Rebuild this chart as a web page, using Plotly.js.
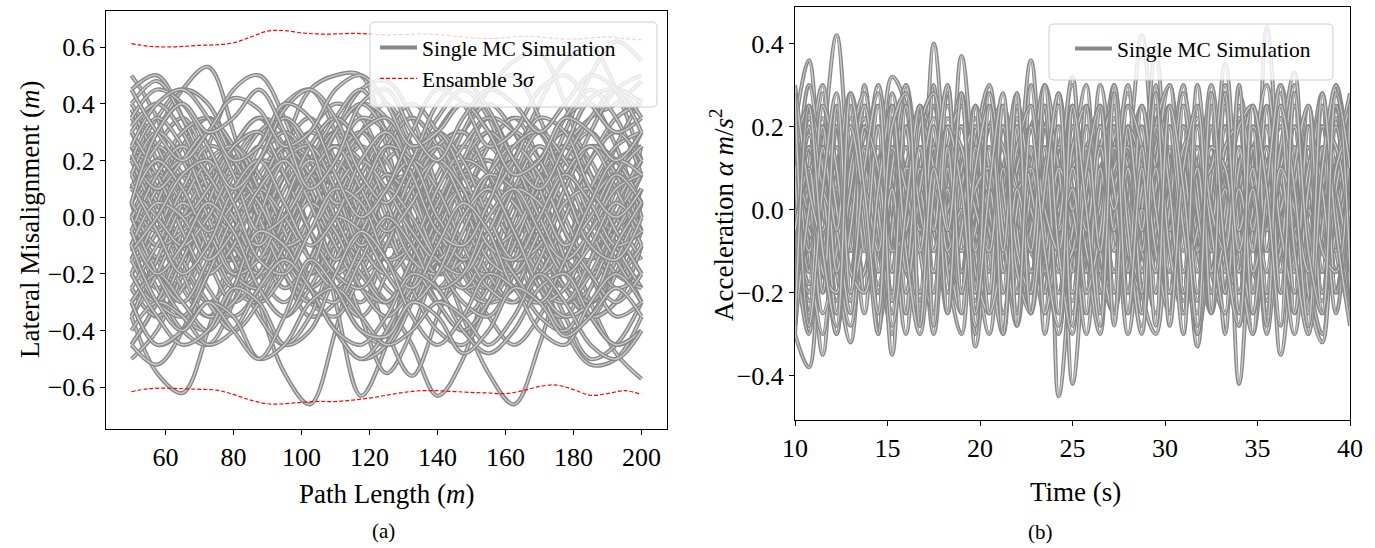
<!DOCTYPE html>
<html>
<head>
<meta charset="utf-8">
<script src="https://cdn.plot.ly/plotly-3.0.1.min.js"></script>
<style>html,body{margin:0;padding:0;background:#fff;}#chart{width:1375px;height:548px;}</style>
</head>
<body>
<div id="chart"></div>
<script>
// ---------- Panel (a): path length grid (m) ----------
const pathLength = [50,57.5,65,72.5,80,87.5,95,102.5,110,117.5,125,132.5,140,147.5,155,162.5,170,177.5,185,192.5,200];
const c01 = [0.50,0.35,0.05,-0.15,-0.05,0.20,0.30,0.10,-0.20,-0.30,-0.10,0.15,0.25,0.10,-0.15,-0.25,-0.05,0.20,0.30,0.15,-0.05];
const c02 = [0.10,0.30,0.45,0.53,0.30,-0.05,-0.25,-0.15,0.10,0.25,0.15,-0.10,-0.30,-0.20,0.05,0.20,0.10,-0.15,-0.30,-0.20,0.05];
const c03 = [0.05,-0.15,-0.05,0.15,0.05,-0.30,-0.55,-0.66,-0.40,-0.05,0.15,0.10,-0.10,-0.25,-0.15,0.05,0.20,0.10,-0.10,-0.20,-0.05];
const c04 = [0.20,0.05,-0.10,0.05,0.20,0.15,-0.05,-0.20,-0.10,0.10,0.25,0.15,-0.10,-0.35,-0.55,-0.66,-0.45,-0.15,0.05,0.10,-0.05];
const c05 = [-0.35,-0.55,-0.62,-0.40,-0.10,0.10,0.05,-0.15,-0.25,-0.10,0.10,0.20,0.05,-0.15,-0.20,0.00,0.20,0.25,0.05,-0.15,-0.25];
const c06 = [-0.10,0.05,0.15,0.05,-0.10,0.00,0.25,0.45,0.50,0.50,0.25,-0.05,-0.20,-0.10,0.10,0.20,0.05,-0.15,-0.20,0.00,0.15];
const c07 = [0.15,0.25,0.10,-0.10,-0.15,0.05,0.20,0.10,-0.10,-0.20,-0.30,-0.45,-0.63,-0.50,-0.20,0.05,0.15,0.05,-0.10,-0.05,0.10];
const c08 = [-0.20,-0.05,0.10,0.05,-0.15,-0.05,0.15,0.05,-0.30,-0.63,-0.45,-0.15,0.05,0.15,0.05,-0.10,-0.20,-0.10,0.10,0.15,0.00];
const c09 = [0.25,0.10,-0.10,-0.20,-0.05,0.15,0.25,0.15,-0.10,-0.35,-0.55,-0.40,-0.15,0.05,0.20,0.10,-0.10,-0.25,-0.15,0.05,0.20];
const c10 = [-0.15,0.05,0.20,0.10,-0.10,-0.20,-0.05,0.15,0.10,-0.15,-0.40,-0.56,-0.35,-0.10,0.10,0.25,0.15,-0.05,-0.20,-0.10,0.10];
const c11 = [0.05,0.20,0.25,0.10,-0.10,-0.15,0.00,0.20,0.30,0.15,-0.05,-0.15,-0.05,0.15,0.20,0.05,-0.20,-0.40,-0.52,-0.50,-0.35];
const c12 = [-0.10,-0.25,-0.15,0.05,0.20,0.10,-0.10,-0.20,-0.05,0.15,0.30,0.20,-0.05,-0.20,-0.10,0.10,0.15,-0.05,-0.30,-0.48,-0.57];
const c13 = [0.00,-0.15,-0.25,-0.10,0.10,0.25,0.15,-0.05,-0.20,-0.10,0.10,0.20,0.10,-0.10,-0.05,0.20,0.40,0.55,0.60,0.45,0.20];
const c14 = [0.20,0.05,-0.10,0.00,0.20,0.30,0.15,-0.05,-0.15,0.00,0.20,0.25,0.05,-0.15,-0.25,-0.10,0.10,0.30,0.50,0.62,0.55];
const c15 = [-0.05,0.10,0.20,0.05,-0.15,-0.20,0.00,0.20,0.25,0.10,-0.10,-0.05,0.15,0.30,0.45,0.55,0.58,0.40,0.15,0.00,0.10];
const c16 = [0.45,0.50,0.35,0.10,-0.10,-0.05,0.15,0.30,0.20,0.00,-0.20,-0.30,-0.15,0.05,0.25,0.35,0.20,-0.05,-0.20,-0.10,0.10];
const c17 = [-0.45,-0.30,-0.05,0.15,0.25,0.10,-0.10,-0.25,-0.15,0.05,0.25,0.35,0.25,0.00,-0.20,-0.30,-0.15,0.10,0.25,0.20,0.00];
const c18 = [0.30,0.10,-0.15,-0.30,-0.20,0.05,0.25,0.35,0.20,-0.05,-0.25,-0.30,-0.10,0.15,0.30,0.20,-0.05,-0.25,-0.35,-0.20,0.05];
const c19 = [-0.25,-0.35,-0.20,0.05,0.25,0.35,0.20,-0.05,-0.25,-0.35,-0.20,0.05,0.25,0.30,0.15,-0.10,-0.30,-0.35,-0.15,0.10,0.30];
const c20 = [0.10,0.30,0.40,0.25,0.00,-0.20,-0.30,-0.15,0.10,0.30,0.40,0.25,0.00,-0.20,-0.25,-0.10,0.15,0.35,0.40,0.25,0.00];
const c21 = [0.35,0.20,0.00,-0.10,0.05,0.25,0.40,0.45,0.30,0.05,-0.15,-0.25,-0.15,0.05,0.10,-0.05,-0.25,-0.40,-0.35,-0.15,0.05];
const c22 = [-0.50,-0.40,-0.20,0.00,0.10,0.00,-0.20,-0.35,-0.30,-0.10,0.10,0.15,0.00,-0.20,-0.35,-0.45,-0.35,-0.15,0.05,0.20,0.25];
const c23 = [0.15,-0.05,-0.25,-0.35,-0.25,-0.05,0.15,0.30,0.40,0.35,0.15,-0.10,-0.30,-0.40,-0.30,-0.10,0.10,0.25,0.35,0.40,0.48];
const c24 = [-0.10,0.10,0.25,0.35,0.25,0.05,-0.15,-0.30,-0.35,-0.20,0.00,0.20,0.35,0.45,0.35,0.10,-0.15,-0.30,-0.25,-0.05,0.15];
const c25 = [0.40,0.25,0.05,-0.10,-0.20,-0.10,0.10,0.20,0.10,-0.10,-0.20,-0.05,0.15,0.25,0.15,-0.05,-0.20,-0.15,0.05,0.25,0.42];
const c26 = [-0.30,-0.45,-0.40,-0.20,0.05,0.20,0.15,-0.05,-0.25,-0.40,-0.45,-0.30,-0.05,0.15,0.25,0.10,-0.10,-0.25,-0.30,-0.15,0.05];
const c27 = [0.20,0.35,0.45,0.40,0.20,0.00,-0.10,0.00,0.20,0.35,0.30,0.10,-0.10,-0.25,-0.20,0.00,0.20,0.30,0.20,0.00,-0.15];
const c28 = [0.00,-0.10,0.05,0.25,0.45,0.50,0.35,0.10,-0.10,-0.20,-0.10,0.10,0.30,0.40,0.30,0.10,-0.10,-0.25,-0.35,-0.30,-0.10];
const c29 = [-0.20,-0.05,0.10,0.05,-0.15,-0.35,-0.45,-0.35,-0.10,0.15,0.30,0.25,0.05,-0.15,-0.25,-0.15,0.05,0.20,0.15,-0.05,-0.20];
const c30 = [0.30,0.40,0.30,0.10,-0.10,-0.20,-0.10,0.10,0.25,0.20,0.00,-0.25,-0.40,-0.45,-0.30,-0.05,0.15,0.25,0.15,-0.05,-0.20];
const c31 = [-0.05,-0.25,-0.40,-0.45,-0.30,-0.05,0.15,0.25,0.15,-0.05,-0.15,-0.05,0.15,0.30,0.40,0.30,0.10,-0.10,-0.15,0.00,0.20];
const c32 = [0.15,0.25,0.15,-0.05,-0.25,-0.30,-0.15,0.10,0.30,0.45,0.48,0.35,0.10,-0.15,-0.30,-0.25,-0.05,0.15,0.25,0.15,-0.05];
const c33 = [-0.30,-0.15,0.05,0.20,0.10,-0.10,-0.25,-0.15,0.05,0.20,0.15,-0.05,-0.25,-0.35,-0.25,0.00,0.20,0.30,0.15,-0.10,-0.30];
const c34 = [0.38,0.20,-0.05,-0.25,-0.35,-0.25,-0.05,0.15,0.25,0.15,-0.05,-0.20,-0.15,0.05,0.25,0.35,0.30,0.10,-0.10,0.00,0.25];
const c35 = [-0.15,0.05,0.25,0.35,0.25,0.05,-0.10,0.00,0.20,0.30,0.20,0.00,-0.20,-0.15,0.05,0.20,0.10,-0.15,-0.35,-0.30,-0.10];
const c36 = [0.00,0.15,0.05,-0.15,-0.30,-0.20,0.00,0.20,0.35,0.45,0.30,0.10,-0.10,-0.25,-0.30,-0.15,0.05,0.20,0.10,-0.10,-0.25];
const c37 = [0.25,0.05,-0.15,-0.30,-0.40,-0.30,-0.10,0.10,0.20,0.05,-0.15,-0.10,0.10,0.30,0.45,0.50,0.35,0.10,-0.10,-0.20,-0.10];
const c38 = [-0.45,-0.30,-0.10,0.10,0.25,0.30,0.15,-0.05,-0.20,-0.10,0.10,0.25,0.20,0.00,-0.20,-0.30,-0.20,0.00,0.20,0.35,0.40];
const c39 = [0.10,0.25,0.35,0.20,0.00,-0.15,-0.05,0.15,0.30,0.25,0.05,-0.15,-0.25,-0.10,0.10,0.05,-0.15,-0.35,-0.50,-0.45,-0.30];
const c40 = [-0.25,-0.35,-0.25,-0.05,0.15,0.30,0.35,0.20,0.00,-0.15,-0.05,0.15,0.30,0.40,0.30,0.10,-0.10,-0.20,-0.05,0.15,0.30];
const c41 = [0.40,0.48,0.35,0.15,-0.05,-0.15,-0.05,0.15,0.30,0.40,0.35,0.15,-0.05,-0.15,-0.05,0.15,0.25,0.10,-0.10,-0.25,-0.20];
const c42 = [-0.10,0.10,0.20,0.10,-0.10,-0.25,-0.35,-0.25,-0.05,0.15,0.30,0.40,0.30,0.10,-0.10,-0.20,-0.10,0.10,0.30,0.45,0.50];
const c43 = [0.20,0.00,-0.20,-0.35,-0.30,-0.10,0.10,0.25,0.35,0.25,0.05,-0.15,-0.30,-0.40,-0.30,-0.10,0.10,0.20,0.10,-0.10,-0.25];
const c44 = [-0.35,-0.20,0.00,0.15,0.25,0.15,-0.05,-0.25,-0.40,-0.50,-0.45,-0.25,0.00,0.15,0.10,-0.05,-0.20,-0.10,0.10,0.25,0.30];
const c45 = [0.05,-0.10,-0.05,0.10,0.25,0.35,0.25,0.05,-0.10,-0.20,-0.10,0.10,0.25,0.30,0.15,-0.05,-0.20,-0.30,-0.20,0.00,0.15];
const c46 = [-0.45,-0.52,-0.40,-0.15,0.05,0.10,-0.05,-0.25,-0.40,-0.50,-0.40,-0.20,0.00,0.10,0.00,-0.20,-0.35,-0.40,-0.25,-0.05,0.10];
const c47 = [0.32,0.40,0.30,0.10,-0.10,-0.20,-0.10,0.10,0.30,0.40,0.30,0.10,-0.15,-0.30,-0.35,-0.20,0.00,0.20,0.35,0.45,0.40];
const c48 = [-0.20,-0.30,-0.15,0.05,0.25,0.35,0.30,0.10,-0.10,-0.25,-0.30,-0.15,0.05,0.20,0.30,0.20,0.00,-0.20,-0.30,-0.15,0.05];
const c49 = [0.10,0.20,0.10,-0.10,-0.25,-0.20,0.00,0.15,0.05,-0.15,-0.30,-0.20,0.00,0.20,0.35,0.30,0.10,-0.15,-0.35,-0.45,-0.40];
const c50 = [0.00,0.15,0.30,0.35,0.20,0.00,-0.15,-0.25,-0.15,0.05,0.25,0.35,0.25,0.05,-0.10,-0.05,0.15,0.35,0.45,0.35,0.15];
const c51 = [-0.20,0.00,0.15,0.05,-0.15,-0.30,-0.20,0.00,0.20,0.30,0.15,-0.05,-0.20,-0.05,0.15,0.30,0.20,0.00,-0.20,-0.35,-0.30];
const c52 = [0.25,0.15,-0.05,-0.20,-0.10,0.10,0.25,0.15,-0.05,-0.20,-0.30,-0.15,0.05,0.20,0.15,-0.05,-0.25,-0.30,-0.15,0.05,0.20];
const c53 = [-0.05,-0.20,-0.30,-0.15,0.05,0.20,0.30,0.20,0.00,-0.15,-0.05,0.15,0.25,0.10,-0.10,-0.25,-0.20,0.00,0.20,0.30,0.20];
const c54 = [0.15,0.30,0.20,0.00,-0.20,-0.25,-0.10,0.05,-0.05,-0.25,-0.35,-0.25,-0.05,0.10,0.00,-0.20,-0.30,-0.15,0.05,0.15,0.05];
const c55 = [-0.35,-0.15,0.05,0.20,0.25,0.10,-0.10,-0.05,0.15,0.30,0.35,0.20,0.00,-0.15,-0.05,0.15,0.30,0.20,0.00,-0.15,-0.30];
const c56 = [0.05,-0.05,0.10,0.25,0.20,0.00,-0.20,-0.30,-0.20,0.00,0.15,0.05,-0.15,-0.25,-0.10,0.10,0.25,0.15,-0.05,-0.20,-0.25];
const c57 = [0.20,0.35,0.25,0.05,-0.05,0.10,0.25,0.20,0.00,-0.15,-0.05,0.15,0.30,0.20,0.00,-0.15,-0.10,0.10,0.25,0.20,0.05];
const c58 = [-0.15,-0.30,-0.35,-0.20,0.00,0.10,0.00,-0.15,-0.25,-0.10,0.10,0.20,0.10,-0.10,-0.25,-0.30,-0.15,0.05,0.10,-0.05,-0.20];
const c59 = [0.30,0.15,0.00,0.10,0.25,0.30,0.15,-0.05,-0.20,-0.25,-0.10,0.10,0.20,0.05,-0.15,-0.20,-0.05,0.15,0.25,0.10,-0.10];
const c60 = [-0.05,0.15,0.25,0.15,0.00,-0.10,0.05,0.20,0.10,-0.10,-0.20,-0.10,0.10,0.25,0.35,0.20,0.00,-0.15,-0.05,0.15,0.25];
const c61 = [0.00,-0.20,-0.35,-0.40,-0.25,0.00,0.20,0.25,0.10,-0.10,0.00,0.20,0.30,0.15,-0.05,-0.20,-0.30,-0.25,-0.05,0.15,0.30];
const c62 = [-0.25,-0.10,0.05,-0.05,-0.20,-0.15,0.05,0.25,0.35,0.25,0.05,-0.15,-0.20,-0.05,0.15,0.25,0.15,-0.05,-0.20,-0.30,-0.20];
const c63 = [0.10,0.00,-0.10,0.00,0.15,0.05,-0.10,-0.05,0.10,0.20,0.10,-0.05,-0.15,0.00,0.15,0.10,-0.05,-0.15,-0.05,0.10,0.15];
const c64 = [-0.10,0.05,0.00,-0.15,-0.05,0.10,0.20,0.05,-0.15,-0.05,0.10,0.00,-0.15,-0.20,-0.05,0.10,0.05,-0.10,0.00,0.15,0.05];
const c65 = [0.22,0.10,0.20,0.30,0.15,-0.05,0.00,0.15,0.25,0.10,-0.05,0.05,0.20,0.10,-0.10,-0.15,0.00,0.15,0.05,-0.10,-0.05];
const c66 = [-0.30,-0.20,-0.30,-0.40,-0.25,-0.05,-0.10,-0.25,-0.30,-0.15,0.00,-0.10,-0.25,-0.20,0.00,0.10,-0.05,-0.20,-0.10,0.05,-0.05];
const c67 = [0.05,0.20,0.10,-0.05,0.05,0.20,0.35,0.25,0.05,0.10,0.25,0.20,0.00,-0.10,0.05,0.20,0.35,0.30,0.10,0.00,0.10];
const c68 = [-0.05,-0.20,-0.10,0.05,-0.05,-0.25,-0.35,-0.20,0.00,-0.05,-0.20,-0.30,-0.20,0.00,0.10,-0.05,-0.25,-0.35,-0.30,-0.10,0.05];
const c69 = [0.12,-0.05,-0.20,-0.10,0.10,0.20,0.05,-0.10,0.00,0.20,0.30,0.15,-0.05,-0.10,0.05,0.25,0.30,0.10,-0.10,-0.15,0.00];
const c70 = [-0.12,0.00,0.15,0.20,0.05,-0.15,-0.20,-0.05,0.10,0.05,-0.15,-0.25,-0.10,0.05,-0.05,-0.25,-0.30,-0.15,0.05,0.20,0.15];
const c71 = [0.35,0.45,0.40,0.25,0.10,0.20,0.38,0.45,0.35,0.15,0.05,0.20,0.40,0.48,0.38,0.20,0.10,0.25,0.42,0.45,0.35];
const c72 = [-0.40,-0.30,-0.35,-0.45,-0.40,-0.25,-0.15,-0.25,-0.40,-0.45,-0.35,-0.20,-0.25,-0.40,-0.48,-0.40,-0.25,-0.20,-0.35,-0.45,-0.40];
const c73 = [0.25,0.40,0.45,0.35,0.20,0.25,0.40,0.35,0.15,0.00,0.10,0.30,0.45,0.40,0.25,0.30,0.45,0.50,0.40,0.30,0.35];
const c74 = [-0.20,-0.35,-0.45,-0.40,-0.25,-0.30,-0.45,-0.40,-0.20,-0.05,-0.15,-0.35,-0.45,-0.35,-0.20,-0.25,-0.40,-0.45,-0.30,-0.20,-0.30];
const c75 = [0.45,0.30,0.20,0.30,0.42,0.38,0.25,0.30,0.45,0.50,0.40,0.25,0.30,0.40,0.30,0.15,0.20,0.35,0.30,0.20,0.30];
const c76 = [-0.30,-0.45,-0.40,-0.30,-0.35,-0.50,-0.45,-0.30,-0.25,-0.35,-0.45,-0.40,-0.30,-0.35,-0.45,-0.35,-0.20,-0.30,-0.45,-0.50,-0.40];
const c77 = [0.05,0.30,0.40,0.30,0.35,0.45,0.30,0.10,0.20,0.40,0.45,0.30,0.20,0.35,0.45,0.40,0.30,0.40,0.50,0.45,0.30];
const c78 = [-0.10,-0.30,-0.40,-0.30,-0.40,-0.50,-0.35,-0.15,-0.25,-0.40,-0.42,-0.30,-0.35,-0.48,-0.40,-0.25,-0.30,-0.42,-0.35,-0.25,-0.35];
const lateralRuns = [c01,c02,c03,c04,c05,c06,c07,c08,c09,c10,c11,c12,c13,c14,c15,c16,c17,c18,c19,c20,
  c21,c22,c23,c24,c25,c26,c27,c28,c29,c30,c31,c32,c33,c34,c35,c36,c37,c38,c39,c40,
  c41,c42,c43,c44,c45,c46,c47,c48,c49,c50,c51,c52,c53,c54,c55,c56,c57,c58,c59,c60,
  c61,c62,c63,c64,c65,c66,c67,c68,c69,c70,c71,c72,c73,c74,c75,c76,c77,c78];

// Ensemble 3-sigma envelope
const sigmaX = [50,55,60,65,70,75,80,85,90,95,100,105,110,115,120,125,130,135,140,145,150,155,160,165,170,175,180,185,190,195,200];
const sigmaUpper = [0.612,0.603,0.600,0.602,0.606,0.608,0.615,0.635,0.656,0.658,0.650,0.646,0.646,0.648,0.646,0.643,0.644,0.646,0.644,0.638,0.632,0.630,0.633,0.638,0.636,0.630,0.628,0.632,0.636,0.630,0.625];
const sigmaLower = [-0.615,-0.605,-0.603,-0.605,-0.607,-0.610,-0.625,-0.645,-0.658,-0.658,-0.653,-0.650,-0.650,-0.645,-0.638,-0.628,-0.618,-0.612,-0.612,-0.615,-0.618,-0.620,-0.622,-0.612,-0.597,-0.592,-0.608,-0.628,-0.622,-0.612,-0.625];

// ---------- Panel (b): time grid (s) ----------
const timeS = [10,10.75,11.5,12.25,13,13.75,14.5,15.25,16,16.75,17.5,18.25,19,19.75,20.5,21.25,22,22.75,23.5,24.25,25,
  25.75,26.5,27.25,28,28.75,29.5,30.25,31,31.75,32.5,33.25,34,34.75,35.5,36.25,37,37.75,38.5,39.25,40];
const b01 = [0.05,-0.10,0.15,0.42,0.05,-0.15,0.10,0.20,-0.05,-0.20,0.05,0.15,-0.10,0.00,0.20,-0.05,-0.15,0.10,0.05,-0.45,-0.10,0.15,0.20,-0.05,-0.20,0.10,0.15,-0.10,0.05,0.20,-0.05,-0.15,0.10,0.20,0.00,-0.20,0.05,0.15,-0.10,0.05,0.15];
const b02 = [0.20,0.36,0.00,-0.15,0.10,0.05,-0.20,0.05,0.20,-0.05,0.40,0.05,-0.15,0.10,0.15,-0.10,-0.05,0.20,0.00,-0.20,0.10,0.20,-0.10,0.05,0.15,0.42,0.05,-0.15,0.00,0.20,0.10,-0.20,-0.05,0.15,0.20,-0.10,0.00,0.15,-0.05,-0.20,0.10];
const b03 = [-0.30,-0.38,0.05,0.20,-0.10,0.15,0.05,-0.20,0.10,0.20,-0.10,0.00,0.37,0.05,-0.20,0.10,0.15,-0.10,-0.15,0.10,-0.42,-0.05,0.20,0.10,-0.15,0.05,0.20,-0.05,-0.20,0.10,0.15,0.00,-0.15,0.20,0.10,-0.20,0.00,0.20,0.10,-0.15,0.05];
const b04 = [0.10,-0.05,-0.35,0.05,0.20,-0.10,0.00,0.15,-0.15,0.10,0.20,-0.05,-0.20,0.05,0.15,-0.10,0.05,0.36,0.00,-0.15,0.10,0.20,-0.05,-0.20,0.05,0.15,-0.10,0.10,0.20,-0.05,-0.10,0.15,-0.42,0.00,0.20,0.05,-0.15,0.10,0.20,0.00,-0.15];
const b05 = [-0.10,0.15,0.05,-0.15,-0.32,0.00,0.10,0.32,0.25,-0.10,-0.15,0.10,0.20,-0.05,-0.15,0.05,0.20,-0.10,0.05,0.15,-0.05,-0.20,0.10,0.15,-0.10,0.05,0.38,0.00,-0.15,0.10,0.20,-0.05,-0.10,0.15,0.05,-0.35,-0.05,0.20,0.10,-0.10,0.15];
const b06 = [0.15,0.00,-0.15,0.10,0.20,-0.05,-0.20,0.05,0.15,0.00,-0.15,0.10,0.05,-0.33,0.00,0.20,0.10,-0.15,-0.05,0.15,0.20,-0.10,0.05,0.20,-0.05,-0.20,0.10,0.15,0.00,-0.33,0.05,0.20,0.10,-0.10,0.44,0.05,-0.15,0.10,0.20,-0.05,0.10];
const b07 = [0.25,-0.05,-0.20,0.10,0.22,0.00,-0.18,0.05,0.25,0.05,-0.15,-0.05,0.20,0.10,-0.20,0.00,0.22,-0.05,-0.25,0.05,0.15,-0.10,-0.20,0.15,0.25,0.00,-0.15,0.10,0.25,-0.05,-0.20,0.05,0.22,0.10,-0.15,0.00,0.25,0.05,-0.20,0.10,0.20];
const b08 = [-0.20,0.10,0.22,-0.05,-0.22,0.05,0.25,0.10,-0.15,-0.20,0.10,0.25,-0.05,-0.22,0.05,0.20,-0.10,-0.15,0.20,0.25,-0.05,-0.25,0.00,0.22,0.05,-0.18,-0.10,0.20,0.05,-0.22,0.00,0.25,0.05,-0.15,-0.20,0.10,0.20,-0.10,-0.22,0.05,0.25];
const b09 = [0.00,0.22,0.10,-0.20,-0.05,0.18,0.25,-0.05,-0.25,0.00,0.20,0.05,-0.20,0.10,0.28,0.00,-0.20,-0.05,0.15,-0.10,-0.22,0.10,0.25,0.05,-0.20,-0.10,0.15,0.25,-0.05,-0.20,0.10,0.20,-0.10,-0.25,0.05,0.22,0.10,-0.15,0.00,0.25,-0.05];
const b10 = [0.28,0.05,-0.15,-0.25,0.05,0.20,-0.10,-0.22,0.00,0.25,0.15,-0.10,-0.25,0.00,0.20,0.25,-0.05,-0.20,-0.10,0.20,0.05,-0.15,0.20,-0.05,-0.25,0.05,0.22,-0.05,-0.22,0.10,0.25,0.05,-0.20,0.05,0.25,-0.10,-0.25,0.00,0.20,0.10,-0.20];
const b11 = [-0.25,-0.05,0.20,0.05,-0.20,-0.15,0.10,0.25,0.05,-0.22,0.00,0.22,0.10,-0.15,-0.25,0.05,0.25,0.10,-0.20,0.00,0.25,0.05,-0.15,-0.25,0.10,0.25,-0.05,-0.20,0.05,0.20,-0.15,-0.05,0.22,0.00,-0.22,0.10,0.28,-0.05,-0.15,0.20,0.00];
const b12 = [0.10,-0.22,-0.10,0.22,0.05,-0.25,0.10,0.20,-0.15,-0.05,0.25,0.00,-0.20,0.20,0.05,-0.25,-0.05,0.20,0.25,-0.10,-0.20,0.05,0.25,-0.10,0.05,-0.20,0.00,0.25,0.10,-0.10,-0.25,0.10,0.15,-0.20,0.05,0.25,-0.05,-0.25,0.10,0.15,-0.15];
const b13 = [-0.05,0.25,-0.10,-0.22,0.15,0.25,-0.05,-0.15,0.20,0.00,-0.25,0.05,0.25,-0.05,0.10,-0.20,0.05,0.25,-0.15,-0.20,0.15,0.05,-0.20,0.10,0.28,-0.05,-0.25,0.00,0.20,0.10,-0.15,-0.25,0.05,0.25,-0.10,0.05,0.20,-0.20,-0.05,0.22,0.05];
const b14 = [0.18,-0.15,0.25,0.00,-0.25,0.20,0.10,-0.20,-0.10,0.25,-0.05,-0.15,0.15,-0.20,0.00,0.25,-0.10,0.05,-0.25,0.15,0.25,-0.15,0.10,-0.25,0.00,0.20,-0.15,0.10,-0.20,0.25,0.00,-0.10,0.25,-0.05,-0.25,0.15,-0.10,0.25,0.00,-0.20,0.20];
const b15 = [-0.15,0.05,0.28,-0.05,0.00,-0.20,0.20,0.05,-0.25,0.15,0.10,0.28,-0.15,0.05,-0.25,0.10,0.20,-0.20,0.10,0.05,-0.15,0.25,0.05,-0.15,0.20,-0.25,0.05,0.20,-0.10,0.00,0.28,-0.20,0.05,0.15,-0.25,0.00,0.15,0.05,0.25,-0.15,-0.05];
const b16 = [0.05,-0.28,0.10,0.15,-0.05,0.25,-0.20,0.00,0.15,-0.25,0.20,-0.05,0.10,0.22,-0.15,-0.05,0.25,-0.20,0.20,-0.10,0.25,-0.15,-0.05,0.20,-0.20,0.15,-0.10,0.20,-0.25,0.05,0.15,-0.20,0.20,0.10,-0.10,0.25,-0.20,0.05,-0.15,0.25,-0.05];
const b17 = [-0.30,0.10,0.30,-0.10,-0.28,0.05,0.30,0.00,-0.30,0.10,0.25,-0.15,-0.30,0.15,0.30,-0.05,-0.28,0.05,0.30,0.10,-0.25,-0.10,0.30,0.05,-0.30,0.00,0.28,0.10,-0.25,-0.05,0.30,0.00,-0.28,0.10,0.30,-0.05,-0.30,0.05,0.28,-0.10,-0.25];
const b18 = [0.30,-0.10,-0.30,0.05,0.28,0.10,-0.28,-0.05,0.30,0.05,-0.30,0.10,0.28,-0.10,-0.30,0.05,0.28,-0.15,-0.10,0.28,0.00,-0.30,0.05,0.30,-0.10,-0.28,0.10,0.30,0.00,-0.30,-0.05,0.28,0.05,-0.30,0.00,0.30,0.10,-0.28,-0.05,0.30,0.10];
const b19 = [0.00,0.30,0.05,-0.30,0.00,0.10,-0.30,0.28,0.05,-0.28,0.30,-0.10,0.05,-0.30,0.28,0.05,-0.20,0.30,-0.05,-0.30,0.10,0.30,-0.20,0.05,0.30,-0.20,-0.30,0.05,0.30,-0.10,0.05,-0.30,0.28,0.10,-0.30,0.05,0.30,-0.15,-0.30,0.10,0.28];
const b20 = [-0.10,-0.30,0.20,0.05,-0.10,0.30,-0.05,-0.30,0.20,0.05,-0.10,0.30,-0.05,0.20,-0.10,-0.30,0.10,0.20,-0.30,0.05,0.30,-0.10,-0.30,0.20,0.05,-0.25,0.30,-0.05,0.20,-0.30,0.05,0.30,-0.10,-0.30,0.20,-0.05,0.25,-0.30,0.10,0.25,-0.20];
const b21 = [0.10,0.15,-0.05,0.05,-0.15,0.10,0.15,-0.10,0.05,0.15,-0.15,0.00,0.10,0.15,-0.05,-0.15,0.10,0.00,-0.10,0.15,0.05,-0.15,0.10,0.00,0.15,-0.10,0.05,-0.15,0.10,0.15,-0.05,0.10,-0.15,0.05,0.15,-0.10,-0.05,0.15,0.05,-0.10,0.10];
const b22 = [-0.10,0.05,0.15,-0.15,0.00,0.15,-0.05,-0.15,0.10,0.00,0.15,-0.10,-0.15,0.10,0.05,-0.10,0.15,0.05,-0.15,0.00,0.10,0.15,-0.10,0.05,-0.15,0.15,0.00,-0.10,0.15,-0.05,-0.15,0.10,0.05,-0.15,0.10,0.15,-0.10,0.00,-0.15,0.15,0.05];
const b23 = [0.20,-0.05,-0.10,0.20,-0.15,-0.05,0.20,0.05,-0.20,0.10,-0.05,0.20,-0.15,-0.05,0.20,0.00,-0.20,0.15,0.05,-0.15,0.20,-0.10,0.00,0.20,-0.15,0.05,0.20,-0.20,0.00,0.15,-0.10,0.20,-0.05,-0.20,0.15,0.05,-0.15,0.20,-0.10,0.00,0.20];
const b24 = [-0.20,0.15,0.00,-0.20,0.20,-0.05,-0.10,0.20,-0.15,0.15,0.00,-0.20,0.05,0.20,-0.20,0.10,-0.05,0.15,-0.20,0.20,-0.05,0.10,-0.20,0.05,0.15,-0.10,-0.20,0.20,0.05,-0.15,0.20,-0.20,0.10,0.05,-0.20,0.15,-0.05,0.20,-0.15,0.10,-0.05];
const b25 = [0.05,0.20,-0.20,0.10,0.05,-0.20,0.20,-0.10,0.00,-0.20,0.20,0.10,-0.10,0.00,0.20,-0.20,-0.05,0.20,0.10,-0.20,-0.05,0.20,0.15,-0.20,0.00,0.25,-0.05,-0.20,0.15,-0.05,0.20,-0.10,-0.20,0.15,-0.05,0.00,0.20,-0.20,0.05,0.20,-0.20];
const b26 = [-0.05,-0.20,0.10,0.25,-0.15,0.05,-0.25,0.15,0.00,0.25,-0.20,0.05,0.15,-0.20,0.00,0.15,-0.25,0.10,0.20,-0.05,-0.20,0.15,-0.15,0.20,0.10,-0.15,0.05,-0.25,0.15,0.20,-0.15,0.05,-0.05,0.20,-0.20,-0.10,0.25,0.10,-0.20,0.00,-0.25];
const b27 = [0.15,0.00,0.20,-0.25,-0.05,0.20,0.00,0.25,-0.10,-0.25,0.05,0.20,-0.20,0.25,0.00,-0.15,0.20,-0.25,0.05,0.20,-0.10,-0.05,0.25,-0.15,-0.10,0.20,0.10,-0.20,0.20,0.05,-0.25,0.00,0.20,-0.20,0.05,0.20,-0.25,0.10,0.20,-0.05,0.15];
const b28 = [-0.25,0.20,-0.05,0.10,-0.20,0.25,0.05,-0.25,0.00,0.15,0.00,-0.25,0.20,0.05,-0.10,0.25,-0.05,-0.25,0.15,-0.05,0.20,0.00,-0.25,0.15,-0.05,0.20,-0.20,0.05,0.25,-0.15,0.10,0.25,-0.25,0.00,0.15,-0.20,0.05,0.25,-0.20,-0.05,0.20];
const b29 = [0.10,-0.15,0.20,0.00,-0.20,0.15,0.05,-0.35,0.10,0.20,-0.10,0.05,-0.20,0.25,0.05,-0.15,0.10,0.20,-0.15,0.05,0.32,-0.10,-0.20,0.10,0.15,-0.15,0.05,0.20,-0.20,0.05,0.10,0.35,-0.05,-0.25,0.10,0.20,-0.10,-0.20,0.15,0.05,-0.15];
const b30 = [-0.05,0.25,0.10,-0.25,0.05,0.20,-0.15,0.10,0.30,-0.10,-0.25,0.15,0.20,-0.15,-0.25,0.20,0.05,-0.25,0.25,0.10,-0.20,0.05,0.25,-0.25,0.10,-0.10,0.20,0.30,-0.15,-0.05,0.25,-0.15,0.10,0.25,-0.05,0.15,0.33,-0.20,-0.32,0.10,0.25];
const b31 = [0.22,0.05,-0.25,-0.10,0.15,0.28,-0.05,-0.20,0.00,0.22,0.10,-0.20,-0.05,0.25,0.10,-0.25,0.00,0.20,-0.05,-0.25,0.15,0.25,-0.10,-0.25,0.20,0.10,-0.20,0.00,0.28,0.05,-0.20,-0.10,0.25,0.05,-0.25,0.10,0.20,-0.05,-0.25,0.05,0.22];
const b32 = [-0.12,0.18,0.05,-0.25,0.10,0.22,-0.15,0.05,-0.25,0.20,0.28,-0.05,-0.20,0.15,-0.10,0.20,-0.20,0.05,0.25,-0.15,-0.10,0.25,-0.20,0.15,0.00,-0.25,0.20,0.05,-0.15,0.25,-0.10,0.05,-0.25,0.20,0.10,-0.20,0.15,-0.10,0.20,0.00,-0.25];
const b33 = [0.26,-0.10,0.05,0.20,-0.20,-0.05,0.25,-0.15,0.10,0.05,-0.25,0.15,0.25,-0.10,0.05,-0.20,0.25,0.05,-0.10,0.20,-0.25,0.00,0.15,0.25,-0.10,-0.20,0.10,-0.15,0.25,0.00,-0.20,0.20,-0.05,0.10,-0.20,0.28,0.00,-0.15,0.15,-0.20,0.10];
const b34 = [-0.28,0.00,0.20,-0.15,0.05,0.25,0.00,-0.25,0.20,-0.05,0.05,-0.25,0.10,0.20,-0.25,-0.10,0.15,0.25,-0.20,0.10,0.00,-0.20,0.25,-0.05,0.20,-0.20,-0.05,0.25,-0.20,0.10,-0.25,0.15,0.20,-0.15,0.00,0.22,-0.25,0.05,0.25,-0.20,0.00];
const b35 = [0.00,-0.18,0.25,0.10,-0.22,0.05,-0.10,0.22,-0.20,0.05,0.22,-0.10,0.00,-0.25,0.20,0.15,-0.15,-0.25,0.10,0.25,0.00,0.10,-0.25,0.20,-0.15,0.25,0.00,-0.20,0.10,0.22,-0.05,0.25,-0.20,-0.05,0.15,-0.15,0.05,-0.25,0.20,0.15,-0.10];
const b36 = [0.15,0.25,-0.15,-0.20,0.25,-0.10,0.20,-0.10,-0.05,0.25,-0.20,0.10,-0.20,0.25,-0.20,0.20,0.05,0.10,-0.25,-0.05,0.20,-0.20,0.10,-0.20,0.25,0.15,-0.10,-0.25,0.10,-0.20,0.25,-0.20,0.05,-0.10,0.25,-0.05,-0.20,0.20,0.05,-0.25,0.15];
const b37 = [-0.20,0.25,0.05,-0.05,-0.25,0.20,0.10,-0.22,0.25,0.00,-0.15,0.15,-0.25,0.05,0.10,-0.15,0.20,-0.10,0.15,-0.25,0.10,-0.05,0.20,0.05,-0.25,0.15,-0.20,0.20,-0.05,0.10,-0.20,-0.05,0.20,0.25,-0.10,0.10,-0.20,0.20,-0.25,0.10,0.20];
const b38 = [0.08,-0.25,0.15,-0.05,0.28,-0.05,-0.25,0.15,0.05,-0.10,0.20,-0.25,0.15,0.00,-0.10,0.25,-0.10,-0.20,0.25,-0.05,0.05,-0.25,0.15,0.00,0.20,-0.20,0.25,-0.10,-0.25,0.20,-0.05,-0.25,0.15,-0.05,0.25,-0.20,0.10,0.25,-0.10,-0.15,0.25];
const b39 = [-0.05,0.10,-0.20,0.25,-0.15,-0.20,0.05,0.25,-0.15,0.15,-0.05,0.20,0.15,-0.20,0.25,-0.05,-0.25,0.20,0.00,-0.10,0.25,-0.20,-0.05,0.25,-0.20,0.00,-0.15,0.25,-0.05,-0.25,0.15,0.10,-0.25,0.05,-0.15,0.10,0.00,-0.15,0.25,-0.05,-0.25];
const b40 = [0.30,0.05,-0.10,-0.30,0.20,0.00,-0.30,0.25,-0.10,-0.30,0.05,0.30,-0.20,0.10,0.25,-0.30,0.05,-0.10,0.30,-0.10,-0.30,0.20,-0.10,0.30,-0.05,-0.30,0.25,0.05,-0.30,0.30,0.00,-0.10,0.30,-0.25,0.05,0.30,-0.10,-0.30,0.10,0.30,-0.15];
const b41 = [0.28,-0.28,0.05,0.28,-0.20,0.10,0.28,-0.28,0.00,0.25,-0.28,0.20,0.05,-0.28,0.25,-0.10,0.28,-0.25,0.05,0.28,-0.28,0.10,0.25,-0.28,0.20,-0.05,0.28,-0.28,0.10,0.25,-0.25,0.28,-0.10,0.05,-0.28,0.25,0.05,-0.28,0.28,-0.05,-0.28];
const b42 = [-0.28,0.25,-0.10,-0.28,0.28,0.05,-0.25,0.20,0.28,-0.28,0.10,-0.05,0.28,-0.25,0.05,0.28,-0.28,0.20,-0.10,-0.28,0.25,0.00,-0.28,0.28,-0.25,0.10,-0.28,0.25,0.05,-0.28,0.28,-0.10,-0.28,0.25,0.05,-0.28,0.28,-0.10,-0.25,0.28,0.10];
const accelRuns = [b01,b02,b03,b04,b05,b06,b07,b08,b09,b10,b11,b12,b13,b14,b15,b16,b17,b18,b19,b20,
  b21,b22,b23,b24,b25,b26,b27,b28,b29,b30,b31,b32,b33,b34,b35,b36,b37,b38,b39,b40,b41,b42];

// tick labels
const xTicksA = [60,80,100,120,140,160,180,200];
const yTicksA = [-0.6,-0.4,-0.2,0.0,0.2,0.4,0.6];
const yTextA = ['\u22120.6','\u22120.4','\u22120.2','0.0','0.2','0.4','0.6'];
const xTicksB = [10,15,20,25,30,35,40];
const yTicksB = [-0.4,-0.2,0.0,0.2,0.4];
const yTextB = ['\u22120.4','\u22120.2','0.0','0.2','0.4'];

// ---------- build ----------
const W = 1375, H = 548;
const px = v => v / W;
const py = v => 1 - v / H;
const OUTER = 'rgb(136,136,136)', INNER = 'rgb(205,205,205)';
const traces = [];
function addRuns(xs, runs, xa, ya, legendId, wOuter, wInner) {
  runs.forEach((ys, i) => {
    traces.push({type:'scatter', mode:'lines', x:xs, y:ys, xaxis:xa, yaxis:ya,
      line:{color:OUTER, width:wOuter, shape:'spline', smoothing:1},
      name:'Single MC Simulation', legend:legendId, showlegend:i===0, hoverinfo:'skip'});
    traces.push({type:'scatter', mode:'lines', x:xs, y:ys, xaxis:xa, yaxis:ya,
      line:{color:INNER, width:wInner, shape:'spline', smoothing:1},
      showlegend:false, hoverinfo:'skip'});
  });
}
addRuns(pathLength, lateralRuns, 'x', 'y', 'legend', 4.2, 1.4);
addRuns(timeS, accelRuns, 'x2', 'y2', 'legend2', 4.0, 1.3);
traces.push({type:'scatter', mode:'lines', x:sigmaX, y:sigmaUpper, xaxis:'x', yaxis:'y',
  line:{color:'red', width:1.2, dash:'4px,2px', shape:'spline'}, name:'Ensamble 3<i>\u03c3</i>', legend:'legend', showlegend:true, hoverinfo:'skip'});
traces.push({type:'scatter', mode:'lines', x:sigmaX, y:sigmaLower, xaxis:'x', yaxis:'y',
  line:{color:'red', width:1.2, dash:'4px,2px', shape:'spline'}, showlegend:false, hoverinfo:'skip'});

function roundRect(x0, y0, x1, y1, r) {
  const X = v => px(v).toFixed(5), Y = v => py(v).toFixed(5);
  return 'M' + X(x0 + r) + ',' + Y(y0) + ' L' + X(x1 - r) + ',' + Y(y0) +
    ' Q' + X(x1) + ',' + Y(y0) + ' ' + X(x1) + ',' + Y(y0 + r) +
    ' L' + X(x1) + ',' + Y(y1 - r) + ' Q' + X(x1) + ',' + Y(y1) + ' ' + X(x1 - r) + ',' + Y(y1) +
    ' L' + X(x0 + r) + ',' + Y(y1) + ' Q' + X(x0) + ',' + Y(y1) + ' ' + X(x0) + ',' + Y(y1 - r) +
    ' L' + X(x0) + ',' + Y(y0 + r) + ' Q' + X(x0) + ',' + Y(y0) + ' ' + X(x0 + r) + ',' + Y(y0) + ' Z';
}

const FONT = 'Liberation Serif, Times New Roman, serif';
const axisBase = {showline:true, mirror:true, linecolor:'#000', linewidth:1, ticks:'outside', ticklen:5,
  tickwidth:1, tickcolor:'#000', showgrid:false, zeroline:false, tickfont:{size:26, family:FONT, color:'#000'}};

const layout = {
  width:W, height:H, margin:{l:0, r:0, t:0, b:0}, paper_bgcolor:'#fff', plot_bgcolor:'#fff',
  font:{family:FONT, color:'#000', size:26},
  xaxis:Object.assign({}, axisBase, {domain:[px(106), px(667)], range:[42.5, 207.5], tickmode:'array', tickvals:xTicksA, anchor:'y'}),
  yaxis:Object.assign({}, axisBase, {domain:[py(429), py(11)], range:[-0.747, 0.727], tickmode:'array', tickvals:yTicksA, ticktext:yTextA, anchor:'x'}),
  xaxis2:Object.assign({}, axisBase, {domain:[px(795), px(1350)], range:[10, 40], tickmode:'array', tickvals:xTicksB, anchor:'y2'}),
  yaxis2:Object.assign({}, axisBase, {domain:[py(420), py(7)], range:[-0.507, 0.488], tickmode:'array', tickvals:yTicksB, ticktext:yTextB, anchor:'x2'}),
  legend:{x:px(375), xanchor:'left', y:py(27), yanchor:'top', bgcolor:'rgba(0,0,0,0)', borderwidth:0, itemwidth:37,
    font:{size:21.5, family:FONT, color:'#000'}, tracegroupgap:0},
  legend2:{x:px(1070), xanchor:'left', y:py(28), yanchor:'top', bgcolor:'rgba(0,0,0,0)', borderwidth:0, itemwidth:37,
    font:{size:21.5, family:FONT, color:'#000'}},
  shapes:[
    {type:'path', xref:'paper', yref:'paper', layer:'above', path:roundRect(370, 22, 657, 107, 5),
      fillcolor:'rgba(255,255,255,0.8)', line:{color:'rgb(204,204,204)', width:1}},
    {type:'path', xref:'paper', yref:'paper', layer:'above', path:roundRect(1049, 24, 1333, 80, 5),
      fillcolor:'rgba(255,255,255,0.8)', line:{color:'rgb(204,204,204)', width:1}}
  ],
  annotations:[
    {text:'Path Length (<i>m</i>)', xref:'paper', yref:'paper', x:px(386), y:py(494), xanchor:'center', yanchor:'middle', showarrow:false, font:{size:27}},
    {text:'(a)', xref:'paper', yref:'paper', x:px(383), y:py(531), xanchor:'center', yanchor:'middle', showarrow:false, font:{size:21}},
    {text:'Lateral Misalignment (<i>m</i>)', xref:'paper', yref:'paper', x:px(30), y:py(220), xanchor:'center', yanchor:'middle', textangle:-90, showarrow:false, font:{size:27}},
    {text:'Time (s)', xref:'paper', yref:'paper', x:px(1075), y:py(492), xanchor:'center', yanchor:'middle', showarrow:false, font:{size:27}},
    {text:'(b)', xref:'paper', yref:'paper', x:px(1040), y:py(532), xanchor:'center', yanchor:'middle', showarrow:false, font:{size:21}},
    {text:'Acceleration <i>\u03b1 m</i>/<i>s</i><sup>2</sup>', xref:'paper', yref:'paper', x:px(722), y:py(215), xanchor:'center', yanchor:'middle', textangle:-90, showarrow:false, font:{size:27}}
  ]
};

Plotly.newPlot('chart', traces, layout, {staticPlot:true, displayModeBar:false});
</script>
</body>
</html>
